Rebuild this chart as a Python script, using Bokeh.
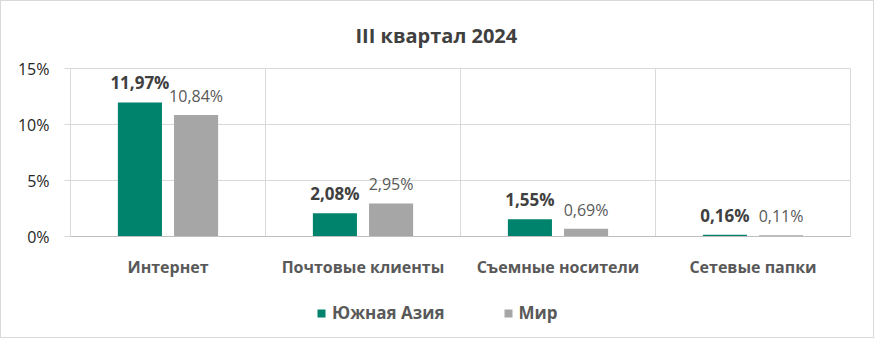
from bokeh.plotting import figure
from bokeh.layouts import column
from bokeh.models import (ColumnDataSource, Range1d, FixedTicker, PrintfTickFormatter,
                          LabelSet, Legend, LegendItem)
from bokeh.core.properties import value
from bokeh.transform import dodge
from bokeh.embed import file_html
from bokeh.resources import INLINE

categories = ["Интернет", "Почтовые клиенты", "Съемные носители", "Сетевые папки"]
south_asia = [11.97, 2.08, 1.55, 0.16]
world = [10.84, 2.95, 0.69, 0.11]
series_names = ["Южная Азия", "Мир"]
y_ticks = [0, 5, 10, 15]

GREEN = "#00836D"
GREY = "#A6A6A6"
FONT = "Open Sans"

def fmt(v):
    return f"{v:.2f}%".replace(".", ",")

xc = [i + 0.5 for i in range(len(categories))]
src = ColumnDataSource(dict(
    x=xc, sa=south_asia, w=world,
    sa_txt=[fmt(v) for v in south_asia],
    w_txt=[fmt(v) for v in world],
))

p = figure(width=872, height=288, output_backend="svg", toolbar_location=None,
           x_range=Range1d(0, len(categories)), y_range=Range1d(0, 15),
           min_border_left=69, min_border_right=23, min_border_top=67, min_border_bottom=53)

p.title.text = "III квартал 2024"
p.title.align = "left"
p.title.offset = 285
p.title.vertical_align = "top"
p.title.text_font = FONT
p.title.text_font_size = "20px"
p.title.text_font_style = "bold"
p.title.text_color = "#404040"
p.title.standoff = 36

bw = 0.226
off = 0.144
p.vbar(x=dodge("x", -off, range=p.x_range), top="sa", width=bw, source=src,
       fill_color=GREEN, line_color=None)
p.vbar(x=dodge("x", off, range=p.x_range), top="w", width=bw, source=src,
       fill_color=GREY, line_color=None)

l1 = LabelSet(x=dodge("x", -off, range=p.x_range), y="sa", text="sa_txt", source=src,
              text_align="center", text_baseline="alphabetic", y_offset=13,
              text_font=value(FONT), text_font_size="17px", text_font_style="bold",
              text_color="#404040")
l2 = LabelSet(x=dodge("x", off, range=p.x_range), y="w", text="w_txt", source=src,
              text_align="center", text_baseline="alphabetic", y_offset=13,
              text_font=value(FONT), text_font_size="16px", text_color="#595959")
p.add_layout(l1)
p.add_layout(l2)

# axes
p.yaxis.ticker = FixedTicker(ticks=y_ticks)
p.yaxis.formatter = PrintfTickFormatter(format="%d%%")
p.yaxis.axis_line_color = None
p.yaxis.major_tick_out = 6
p.yaxis.major_tick_in = 0
p.yaxis.major_tick_line_color = "#d9d9d9"
p.yaxis.minor_tick_line_color = None
p.yaxis.major_label_text_font = FONT
p.yaxis.major_label_text_font_size = "16px"
p.yaxis.major_label_text_color = "#262626"
p.yaxis.major_label_standoff = 15

p.xaxis.ticker = FixedTicker(ticks=xc)
p.xaxis.major_label_overrides = {x: c for x, c in zip(xc, categories)}
p.xaxis.axis_line_color = "#bfbfbf"
p.xaxis.major_tick_line_color = None
p.xaxis.minor_tick_line_color = None
p.xaxis.major_label_text_font = FONT
p.xaxis.major_label_text_font_size = "16px"
p.xaxis.major_label_text_font_style = "bold"
p.xaxis.major_label_text_color = "#595959"
p.xaxis.major_label_standoff = 13

p.ygrid.ticker = FixedTicker(ticks=y_ticks)
p.ygrid.grid_line_color = "#d9d9d9"
p.xgrid.ticker = FixedTicker(ticks=list(range(1, len(categories))))
p.xgrid.grid_line_color = "#d9d9d9"
p.outline_line_color = "#d9d9d9"

# legend strip (hidden renderers only supply the legend swatches)
pl = figure(width=872, height=48, output_backend="svg", toolbar_location=None,
            x_axis_type=None, y_axis_type=None, min_border=0,
            x_range=Range1d(0, 1), y_range=Range1d(0, 1))
pl.grid.visible = False
pl.outline_line_color = None
g1 = pl.vbar(x="x", top="sa", width=0.1, source=src, fill_color=GREEN, line_color=None,
             visible=False)
g2 = pl.vbar(x="x", top="w", width=0.1, source=src, fill_color=GREY, line_color=None,
             visible=False)
legend = Legend(items=[LegendItem(label=series_names[0], renderers=[g1]),
                       LegendItem(label=series_names[1], renderers=[g2])],
                orientation="horizontal", location=(246, 13),
                glyph_width=10, glyph_height=10, label_standoff=6, spacing=58,
                padding=0, margin=0, border_line_color=None, background_fill_alpha=0,
                inactive_fill_alpha=0,
                label_text_font=FONT, label_text_font_size="17px",
                label_text_font_style="bold", label_text_color="#595959")
pl.add_layout(legend, "center")

layout = column(p, pl, spacing=0)
layout.styles = {"border": "1px solid #d9d9d9"}

open("out.html", "w").write(file_html(layout, INLINE))
